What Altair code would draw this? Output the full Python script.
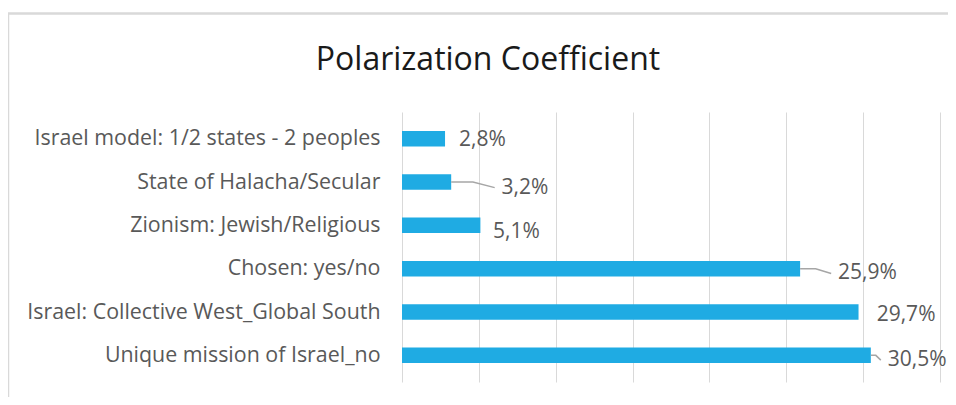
import altair as alt
import pandas as pd

# ---- data ----
categories = [
    "Israel model: 1/2 states - 2 peoples",
    "State of Halacha/Secular",
    "Zionism: Jewish/Religious",
    "Chosen: yes/no",
    "Israel: Collective West_Global South",
    "Unique mission of Israel_no",
]
values = [2.8, 3.2, 5.1, 25.9, 29.7, 30.5]
# data-label anchor (value units) and small vertical shift (row units), as placed in the source chart
label_x = [3.71, 6.48, 5.92, 28.37, 30.88, 31.6]
label_dy = [0.04, 0.13, 0.15, 0.11, 0.07, 0.11]
has_leader = [False, True, False, True, False, True]
x_ticks = [0, 5, 10, 15, 20, 25, 30, 35]

TITLE = "Polarization Coefficient"
FONT = "Open Sans"
TXT = "#595959"
BAR = "#1fabe3"
GRID = "#d9d9d9"

rows = list(range(len(categories)))
df = pd.DataFrame({
    "row": rows,
    "category": categories,
    "value": values,
    "label": [f"{v:.1f}%".replace(".", ",") for v in values],
    "lx": label_x,
    "ly": [r + d for r, d in zip(rows, label_dy)],
})

lead = []
for r, v, lx, d, h in zip(rows, values, label_x, label_dy, has_leader):
    if not h:
        continue
    end = lx - 0.45
    lead.append({"row": r, "k": 0, "x": v, "y": r})
    lead.append({"row": r, "k": 1, "x": v + (end - v) * 0.5, "y": r})
    lead.append({"row": r, "k": 2, "x": end, "y": r + d})
lead_df = pd.DataFrame(lead)

label_expr = "[" + ",".join("'" + c + "'" for c in categories) + "][datum.value]"

xscale = alt.Scale(domain=[0, 35], nice=False, zero=False)
yscale = alt.Scale(domain=[-0.5, len(categories) - 0.5], reverse=True, nice=False, zero=False)

xaxis = alt.Axis(values=x_ticks, labels=False, ticks=False, domain=False, grid=True,
                 gridColor=GRID, gridWidth=1, title=None)
yaxis = alt.Axis(values=rows, labelExpr=label_expr, ticks=False, domain=False, grid=False,
                 labelPadding=22, labelFont=FONT, labelFontSize=21.4, labelColor=TXT,
                 labelBaseline="middle", labelAlign="right", title=None, labelLimit=0)

frame = alt.Chart(alt.Data(values=[{}])).mark_rect(
    filled=False, stroke=GRID, strokeWidth=2.5
).encode(
    x=alt.value(-394), x2=alt.value(600), y=alt.value(-98.5), y2=alt.value(400)
)

title = alt.Chart(alt.Data(values=[{"t": TITLE}])).mark_text(
    align="center", baseline="alphabetic", font=FONT, fontSize=32, color="#1a1a1a"
).encode(x=alt.value(86), y=alt.value(-42), text="t:N")

bars = alt.Chart(df).mark_bar(orient="horizontal", size=15.5, color=BAR).encode(
    x=alt.X("value:Q", scale=xscale, axis=xaxis),
    x2=alt.datum(0),
    y=alt.Y("row:Q", scale=yscale, axis=yaxis),
)

leaders = alt.Chart(lead_df).mark_line(color="#a6a6a6", strokeWidth=1.5).encode(
    x=alt.X("x:Q", scale=xscale),
    y=alt.Y("y:Q", scale=yscale),
    detail="row:N",
    order="k:Q",
)

labels = alt.Chart(df).mark_text(
    align="left", baseline="middle", font=FONT, fontSize=21, color=TXT
).encode(
    x=alt.X("lx:Q", scale=xscale),
    y=alt.Y("ly:Q", scale=yscale),
    text="label:N",
)

chart = alt.layer(frame, title, bars, leaders, labels).properties(
    width=538,
    height=270,
    padding={"left": 394, "top": 104, "right": 8, "bottom": 15},
    autosize=alt.AutoSizeParams(type="none"),
).configure_view(stroke=None)

chart.save("out.html", embed_options={"renderer": "svg", "actions": False})
